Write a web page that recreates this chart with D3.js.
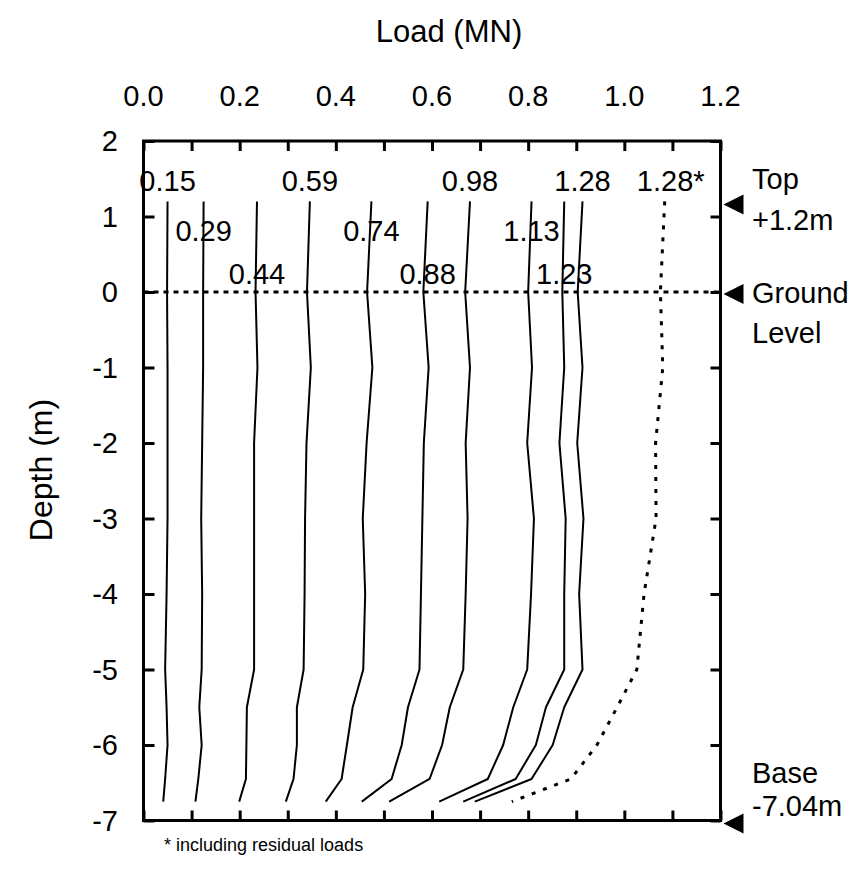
<!DOCTYPE html>
<html>
<head>
<meta charset="utf-8">
<script src="https://cdn.jsdelivr.net/npm/d3@7"></script>
<style>
  html, body { margin: 0; padding: 0; background: #fff; }
  svg text { font-family: "Liberation Sans", Arial, sans-serif; fill: #000; }
</style>
</head>
<body>
<svg id="chart" width="856" height="871"></svg>
<script>
// ---- data ----
const depths = [1.2, 0, -1, -2, -3, -4, -5, -5.5, -6, -6.45, -6.75];
const seriesLabels = ["0.15", "0.29", "0.44", "0.59", "0.74", "0.88", "0.98", "1.13", "1.23", "1.28", "1.28*"];
const load015 = [0.050, 0.049, 0.050, 0.050, 0.050, 0.048, 0.045, 0.048, 0.050, 0.045, 0.041];
const load029 = [0.125, 0.124, 0.124, 0.122, 0.120, 0.122, 0.121, 0.116, 0.121, 0.114, 0.108];
const load044 = [0.236, 0.233, 0.237, 0.230, 0.230, 0.230, 0.230, 0.215, 0.214, 0.213, 0.199];
const load059 = [0.346, 0.340, 0.348, 0.339, 0.336, 0.335, 0.333, 0.319, 0.319, 0.312, 0.296];
const load074 = [0.474, 0.465, 0.476, 0.464, 0.456, 0.461, 0.457, 0.435, 0.423, 0.412, 0.379];
const load088 = [0.591, 0.582, 0.593, 0.583, 0.580, 0.577, 0.574, 0.550, 0.537, 0.516, 0.454];
const load098 = [0.679, 0.669, 0.679, 0.670, 0.674, 0.670, 0.665, 0.637, 0.621, 0.595, 0.511];
const load113 = [0.807, 0.800, 0.808, 0.798, 0.812, 0.806, 0.798, 0.769, 0.748, 0.716, 0.615];
const load123 = [0.875, 0.871, 0.875, 0.865, 0.878, 0.875, 0.875, 0.837, 0.816, 0.774, 0.665];
const load128 = [0.913, 0.903, 0.913, 0.902, 0.915, 0.906, 0.913, 0.875, 0.851, 0.807, 0.689];
const load128res = [1.084, 1.075, 1.080, 1.065, 1.066, 1.041, 1.026, 0.985, 0.943, 0.889, 0.766];
const allSeries = [load015, load029, load044, load059, load074, load088, load098, load113, load123, load128, load128res];
const xTicks = [0, 0.1, 0.2, 0.3, 0.4, 0.5, 0.6, 0.7, 0.8, 0.9, 1.0, 1.1, 1.2];
const xTickLabels = [0, 0.2, 0.4, 0.6, 0.8, 1.0, 1.2];
const yTicks = [2, 1, 0, -1, -2, -3, -4, -5, -6, -7];
// label placement: row (0 top,1 mid,2 low) for each series label
const labelRow = [0, 1, 2, 0, 1, 2, 0, 1, 2, 0, 0];
const markers = [
  {depth: 1.2, lines: ["Top", "+1.2m"]},
  {depth: 0, lines: ["Ground", "Level"]},
  {depth: -7.04, lines: ["Base", "-7.04m"]}
];

// ---- layout ----
const svg = d3.select("#chart");
const L = 143.5, R = 720.5, T = 141, B = 820.5;
const x = d3.scaleLinear().domain([0, 1.2]).range([L, R]);
const y = d3.scaleLinear().domain([2, -7]).range([T, B]);
const fs = 29;

// frame
svg.append("rect").attr("x", L).attr("y", T).attr("width", R - L).attr("height", B - T)
  .attr("fill", "none").attr("stroke", "#000").attr("stroke-width", 3);

// ticks (inward) on all sides
const tickLen = 10;
svg.append("g").attr("transform", `translate(0,${T})`)
  .call(d3.axisBottom(x).tickValues(xTicks).tickSize(tickLen).tickFormat(""))
  .call(g => { g.select(".domain").remove(); g.selectAll("line").attr("stroke-width", 3); });
svg.append("g").attr("transform", `translate(0,${B})`)
  .call(d3.axisTop(x).tickValues(xTicks).tickSize(tickLen).tickFormat(""))
  .call(g => { g.select(".domain").remove(); g.selectAll("line").attr("stroke-width", 3); });
svg.append("g").attr("transform", `translate(${L},0)`)
  .call(d3.axisRight(y).tickValues(yTicks).tickSize(11).tickFormat(""))
  .call(g => { g.select(".domain").remove(); g.selectAll("line").attr("stroke-width", 3); });
svg.append("g").attr("transform", `translate(${R},0)`)
  .call(d3.axisLeft(y).tickValues(yTicks).tickSize(tickLen).tickFormat(""))
  .call(g => { g.select(".domain").remove(); g.selectAll("line").attr("stroke-width", 3); });

// tick labels
svg.append("g").selectAll("text").data(xTickLabels).join("text")
  .attr("x", d => x(d)).attr("y", 106).attr("text-anchor", "middle")
  .attr("font-size", fs).text(d => d3.format(".1f")(d));
svg.append("g").selectAll("text").data(yTicks).join("text")
  .attr("x", 118).attr("y", d => y(d)).attr("dy", "0.35em").attr("text-anchor", "end")
  .attr("font-size", fs).text(d => d);

// axis titles
svg.append("text").attr("x", 449).attr("y", 42).attr("text-anchor", "middle")
  .attr("font-size", 31).text("Load (MN)");
svg.append("text").attr("transform", "translate(52,470) rotate(-90)").attr("text-anchor", "middle")
  .attr("font-size", 32).text("Depth (m)");

// ground level dotted line
svg.append("line").attr("x1", L).attr("x2", R).attr("y1", y(0)).attr("y2", y(0))
  .attr("stroke", "#000").attr("stroke-width", 3).attr("stroke-dasharray", "5,5");

// series lines
const line = d3.line().x(d => x(d[0])).y(d => y(d[1]));
allSeries.forEach((s, i) => {
  const pts = s.map((v, j) => [v, depths[j]]);
  const dotted = i === allSeries.length - 1;
  svg.append("path").attr("d", line(pts)).attr("fill", "none").attr("stroke", "#000")
    .attr("stroke-width", dotted ? 3 : 2)
    .attr("stroke-dasharray", dotted ? "4,8" : null)
    .attr("stroke-linejoin", "round");
});

// series labels
const rowBase = [191, 241, 284];
seriesLabels.forEach((lab, i) => {
  const cx = x(allSeries[i][0]) + (lab.endsWith("*") ? 6 : 0);
  svg.append("text").attr("x", cx).attr("y", rowBase[labelRow[i]])
    .attr("text-anchor", "middle").attr("font-size", fs).text(lab);
});

// right markers
markers.forEach((m, k) => {
  const yy = y(m.depth) + (k === 0 ? 3 : k === 1 ? 2 : 0);
  svg.append("path")
    .attr("d", `M${R + 3},${yy} L${R + 23},${yy - 10} L${R + 23},${yy + 10} Z`)
    .attr("fill", "#000");
});
const textPos = [[189, 230], [303, 343], [783, 816]];
markers.forEach((m, k) => {
  m.lines.forEach((t, j) => {
    svg.append("text").attr("x", 752).attr("y", textPos[k][j])
      .attr("font-size", fs).text(t);
  });
});

// footnote
svg.append("text").attr("x", 164).attr("y", 851).attr("font-size", 18)
  .text("* including residual loads");
</script>
</body>
</html>
